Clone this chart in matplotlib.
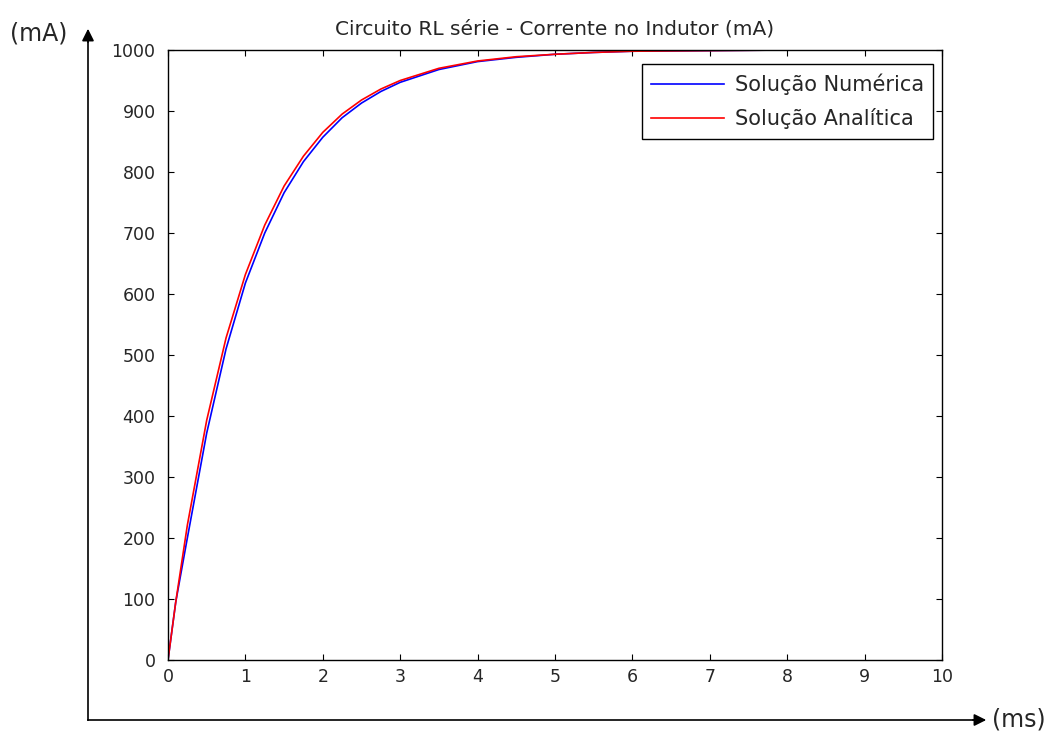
import matplotlib
matplotlib.use("Agg")
import matplotlib.pyplot as plt
from matplotlib.lines import Line2D

# ============================================================
# Data
# ============================================================

t_ms = [0.0, 0.1, 0.25, 0.5, 0.75, 1.0, 1.25, 1.5, 1.75, 2.0, 2.25, 2.5,
        2.75, 3.0, 3.5, 4.0, 4.5, 5.0, 5.5, 6.0, 7.0, 8.0, 9.0, 10.0]

i_analitica = [0, 95, 221, 393, 528, 632, 713, 777, 826, 865, 895, 918,
               936, 950, 970, 982, 989, 993, 996, 998, 999, 1000, 1000, 1000]

i_numerica = [0, 95, 200, 372, 510, 618, 700, 766, 817, 857, 889, 913,
              932, 947, 968, 981, 988, 993, 996, 998, 999, 1000, 1000, 1000]

x_ticks = list(range(0, 11))
y_ticks = list(range(0, 1001, 100))

title = "Circuito RL série - Corrente no Indutor (mA)"
labels = ["Solução Numérica", "Solução Analítica"]

TEXT_COLOR = "#262626"
W, H = 1049, 736


def fx(px):
    return px / W


def fy(py):
    return 1.0 - py / H


def main():
    plt.rcParams["font.family"] = ["DejaVu Sans"]

    fig = plt.figure(figsize=(W / 100, H / 100), dpi=100)
    fig.patch.set_facecolor("white")

    ax = fig.add_axes([fx(168), fy(660), (942 - 168) / W, (660 - 50) / H])

    ax.plot(t_ms, i_numerica, color="#0000ff", linewidth=1.2, label=labels[0])
    ax.plot(t_ms, i_analitica, color="#ff0000", linewidth=1.2, label=labels[1])

    ax.set_xlim(0, 10)
    ax.set_ylim(0, 1000)
    ax.set_xticks(x_ticks)
    ax.set_yticks(y_ticks)
    ax.tick_params(direction="in", top=True, right=True, length=4,
                   labelsize=12.5, colors="black", labelcolor=TEXT_COLOR)
    ax.tick_params(axis="y", pad=9)
    ax.tick_params(axis="x", pad=6)
    for sp in ax.spines.values():
        sp.set_linewidth(1.0)

    ax.set_title(title, fontsize=14.5, pad=11, color=TEXT_COLOR)

    leg = ax.legend(loc="upper right", bbox_to_anchor=(fx(933), fy(64)),
                    bbox_transform=fig.transFigure, borderaxespad=0,
                    fontsize=15, fancybox=False, framealpha=1,
                    edgecolor="black", handlelength=3.5, handletextpad=0.5,
                    borderpad=0.45, labelspacing=0.65)
    leg.get_frame().set_linewidth(1.0)
    for txt in leg.get_texts():
        txt.set_color(TEXT_COLOR)

    # outer axes arrows
    fig.add_artist(Line2D([fx(88), fx(88)], [fy(720), fy(40)],
                          color="black", linewidth=1.2))
    fig.add_artist(Line2D([fx(88), fx(975)], [fy(720), fy(720)],
                          color="black", linewidth=1.2))
    ax.annotate("", xy=(fx(88), fy(26)), xytext=(fx(88), fy(45)),
                xycoords="figure fraction", textcoords="figure fraction",
                arrowprops=dict(arrowstyle="-|>", color="black",
                                mutation_scale=18, linewidth=1.2))
    ax.annotate("", xy=(fx(989), fy(720)), xytext=(fx(970), fy(720)),
                xycoords="figure fraction", textcoords="figure fraction",
                arrowprops=dict(arrowstyle="-|>", color="black",
                                mutation_scale=18, linewidth=1.2))

    fig.text(fx(10), fy(33), "(mA)", fontsize=17, va="center", ha="left",
             color=TEXT_COLOR)
    fig.text(fx(992), fy(720), "(ms)", fontsize=17, va="center", ha="left",
             color=TEXT_COLOR)

    fig.savefig("out.png", dpi=100)
    plt.close(fig)


if __name__ == "__main__":
    main()
